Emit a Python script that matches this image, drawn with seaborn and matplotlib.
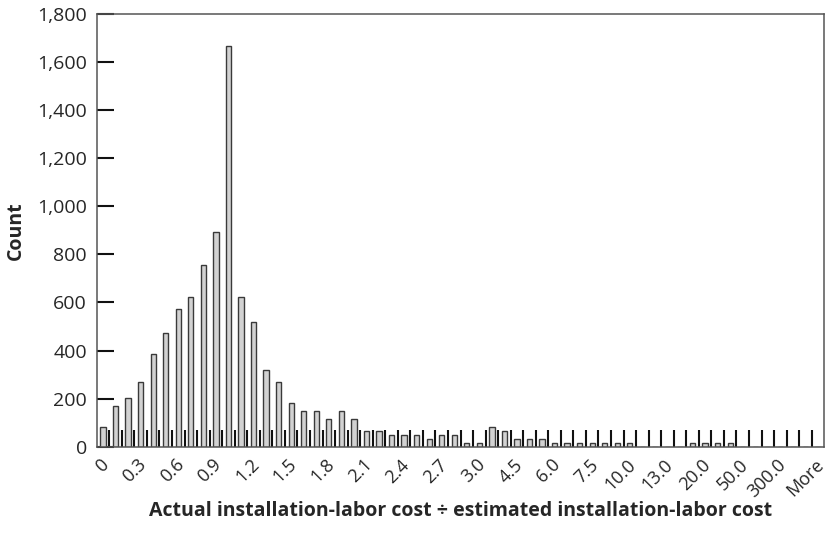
import numpy as np
import matplotlib
matplotlib.use("Agg")
import matplotlib.pyplot as plt
import matplotlib.transforms as mtransforms
import seaborn as sns
from matplotlib.ticker import FuncFormatter

# Histogram of actual / estimated installation-labor cost (58 bins)
counts = [
    83, 169, 204, 270, 386, 472, 573, 621, 756, 892,
    1667, 621, 520, 319, 270, 183, 150, 150, 117, 150,
    117, 67, 67, 50, 50, 50, 33, 50, 50, 14,
    14, 82, 67, 33, 33, 33, 15, 15, 15, 15,
    15, 15, 15, 0, 0, 0, 0, 15, 15, 15,
    15, 0, 0, 0, 0, 0, 0, 0,
]
bins = np.arange(len(counts))

# only every third bin is labelled on the axis
tick_labels = [
    "0", "0.3", "0.6", "0.9", "1.2", "1.5", "1.8", "2.1", "2.4", "2.7",
    "3.0", "4.5", "6.0", "7.5", "10.0", "13.0", "20.0", "50.0", "300.0", "More",
]

sns.set_style("white")
plt.rcParams["font.family"] = ["Open Sans", "DejaVu Sans"]

fig = plt.figure(figsize=(8.29, 5.41), dpi=100)
ax = fig.add_axes([0.1167, 0.1743, 0.8776, 0.7998])

sns.barplot(x=bins, y=counts, ax=ax, color="#d2d2d2", width=0.42,
            edgecolor="#3a3a3a", linewidth=1.0, saturation=1)

ax.set_xlim(-0.5, len(counts) - 0.5)
ax.set_ylim(0, 1800)
ax.set_yticks(np.arange(0, 1801, 200))
ax.yaxis.set_major_formatter(FuncFormatter(lambda v, p: f"{int(v):,}"))

# labels at every third bin, tick marks at the bin boundaries
ax.set_xticks(bins[::3])
ax.set_xticklabels(tick_labels, rotation=45, ha="right", va="center",
                   rotation_mode="anchor")
ax.set_xticks(np.arange(0.5, len(counts) - 1, 1.0), minor=True)
ax.tick_params(axis="x", which="major", bottom=True, length=0, pad=11,
               labelsize=13)
ax.tick_params(axis="x", which="minor", bottom=True, direction="in",
               length=12, width=1.5, color="#111111")
ax.tick_params(axis="y", left=True, direction="in", length=12, width=1.5,
               color="#111111", labelsize=14, pad=7)

# nudge the rotated labels a little to the right
shift = mtransforms.ScaledTranslation(3 / 100, 0, fig.dpi_scale_trans)
for lab in ax.get_xticklabels():
    lab.set_transform(lab.get_transform() + shift)

for s in ax.spines.values():
    s.set_visible(True)
    s.set_color("#555555")
    s.set_linewidth(1.1)

ax.set_xlabel("Actual installation-labor cost \u00f7 estimated installation-labor cost",
              fontsize=14, fontweight="bold", labelpad=0)
ax.set_ylabel("Count", fontsize=14, fontweight="bold", labelpad=8)

fig.savefig("out.png", dpi=100)
